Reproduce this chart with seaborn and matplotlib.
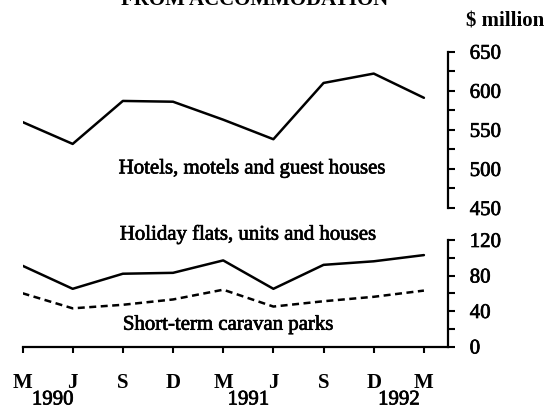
import pandas as pd
import matplotlib.pyplot as plt
import matplotlib.transforms as mtransforms
import matplotlib.patheffects as pe
from matplotlib.ticker import MultipleLocator
import seaborn as sns

# quarterly takings from accommodation, $ million
months = ['M', 'J', 'S', 'D', 'M', 'J', 'S', 'D', 'M']
years = ['1990', '1991', '1992']
hotels = [560, 532, 587, 586, 563, 538, 610, 622, 591]
flats = [91, 65, 82, 83, 97, 65, 92, 96, 103]
caravans = [60, 43, 47, 53, 64, 45, 51, 56, 63]

df = pd.DataFrame({'t': range(len(months)), 'hotels': hotels,
                   'flats': flats, 'caravans': caravans})

sns.set_theme(style='white')
plt.rcParams['font.family'] = ['Liberation Serif', 'DejaVu Serif']
plt.rcParams['text.color'] = 'black'

# scanned print look: slightly heavier glyphs
ink = [pe.withStroke(linewidth=0.5, foreground='black')]
fs = 15

W, H = 549, 409
fig = plt.figure(figsize=(W / 100, H / 100), dpi=100)
left, width = 22.5 / W, 425 / W
ax_top = fig.add_axes([left, (H - 208) / H, width, 156.3 / H])
ax_bot = fig.add_axes([left, (H - 346.5) / H, width, 106.5 / H])

# top panel: hotels
sns.lineplot(data=df, x='t', y='hotels', ax=ax_top, color='black', lw=1.8)
ax_top.set_ylim(450, 650)
ax_top.yaxis.set_major_locator(MultipleLocator(50))
ax_top.yaxis.set_minor_locator(MultipleLocator(25))

# bottom panel: flats and caravan parks
sns.lineplot(data=df, x='t', y='flats', ax=ax_bot, color='black', lw=1.8)
sns.lineplot(data=df, x='t', y='caravans', ax=ax_bot, color='black', lw=1.8,
             linestyle=(0, (2.8, 1.8)))
ax_bot.set_ylim(0, 120)
ax_bot.yaxis.set_major_locator(MultipleLocator(40))
ax_bot.yaxis.set_minor_locator(MultipleLocator(20))

for ax in (ax_top, ax_bot):
    ax.set_xlim(0, 8.47)
    ax.set_xlabel('')
    ax.set_ylabel('')
    ax.set_facecolor('none')
    for s in ('left', 'top', 'bottom'):
        ax.spines[s].set_visible(False)
    ax.spines['right'].set_color('black')
    ax.spines['right'].set_linewidth(1.6)
    ax.yaxis.tick_right()
    ax.tick_params(axis='y', which='both', direction='out', length=5,
                   width=1.5, color='black', right=True, left=False)
    ax.tick_params(axis='y', which='major', pad=11, labelsize=fs,
                   labelcolor='black')
    for lab in ax.get_yticklabels():
        lab.set_path_effects(ink)

ax_top.tick_params(axis='x', bottom=False, labelbottom=False)

ax_bot.spines['bottom'].set_visible(True)
ax_bot.spines['bottom'].set_color('black')
ax_bot.spines['bottom'].set_linewidth(1.6)
ax_bot.set_xticks(range(len(months)))
ax_bot.set_xticklabels(months, fontsize=fs, fontweight='bold')
ax_bot.tick_params(axis='x', direction='out', length=4, width=1.5,
                   color='black', bottom=True, pad=15, labelcolor='black')

# year labels under the month letters
trans = mtransforms.blended_transform_factory(ax_bot.transData, fig.transFigure)
for pos, yr in zip([0.6, 4.5, 7.5], years):
    ax_bot.text(pos, (H - 400) / H, yr, transform=trans, ha='center',
                va='center', fontsize=fs, path_effects=ink)

# series labels
ax_top.text(4.59, 500, 'Hotels, motels and guest houses', ha='center',
            va='center', fontsize=fs, path_effects=ink)
ax_bot.text(4.51, 126, 'Holiday flats, units and houses', ha='center',
            va='center', fontsize=fs, clip_on=False, path_effects=ink)
ax_bot.text(4.11, 24, 'Short-term caravan parks', ha='center',
            va='center', fontsize=fs, path_effects=ink)

fig.text(466 / W, (H - 22) / H, '$ million', ha='left', va='center',
         fontsize=fs, fontweight='bold')
fig.text(255 / W, 1.0, 'FROM ACCOMMODATION', ha='center', va='center',
         fontsize=fs, fontweight='bold')

fig.savefig('out.png', dpi=100)
